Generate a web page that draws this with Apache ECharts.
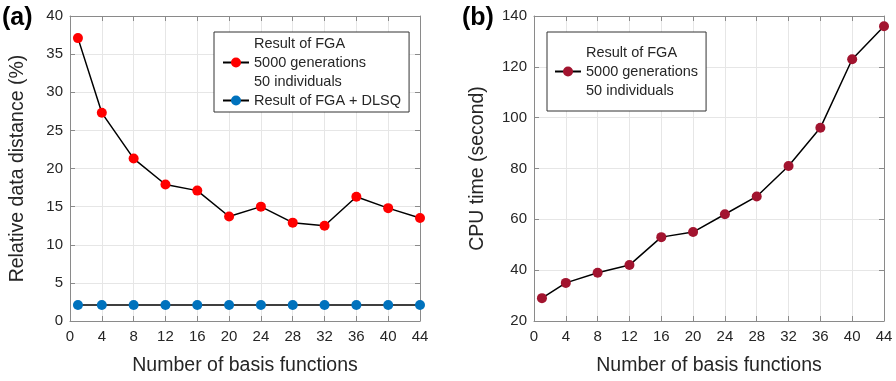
<!DOCTYPE html>
<html>
<head>
<meta charset="utf-8">
<script src="https://cdn.jsdelivr.net/npm/echarts@6/dist/echarts.min.js"></script>
<style>
	html, body { margin:0; padding:0; background:#fff; }
	#main { width:896px; height:381px; }
</style>
</head>
<body>
<div id="main"></div>
<script>
	// x positions (number of basis functions)
	var basisCount = [1, 4, 8, 12, 16, 20, 24, 28, 32, 36, 40, 44];
	// panel (a): relative data distance in %
	var distFGA = [37.1, 27.3, 21.3, 17.9, 17.1, 13.7, 15.0, 12.9, 12.5, 16.3, 14.8, 13.5];
	var distDLSQ = [2.1, 2.1, 2.1, 2.1, 2.1, 2.1, 2.1, 2.1, 2.1, 2.1, 2.1, 2.1];
	// panel (b): cpu time in seconds
	var cpuTime = [29, 35, 39, 42, 53, 55, 62, 69, 81, 96, 123, 136];

	var nameFGA = "Result of FGA\n5000 generations\n50 individuals";
	var nameDLSQ = "Result of FGA + DLSQ";
	var nameCPU = "Result of FGA\n5000 generations\n50 individuals ";

	var font = "Liberation Sans, Arial, sans-serif";
	var axisColor = "#8a8a8a";
	var textColor = "#262626";

	function pairs(xs, ys){
		var out = [];
		for(var i = 0; i < xs.length; i++){
			out.push([xs[i], ys[i]]);
		}
		return out;
	}

	function xAxisOf(gridIndex, top){
		return {
			type: "value",
			gridIndex: gridIndex,
			position: top ? "top" : "bottom",
			min: 0, max: 44, interval: 4,
			name: top ? "" : "Number of basis functions",
			nameLocation: "middle",
			nameGap: 35,
			nameTextStyle: { fontFamily: font, fontSize: 19.5, color: textColor },
			axisLine: { show: true, onZero: false, lineStyle: { color: axisColor, width: 1 } },
			axisTick: { show: true, inside: true, length: 5, lineStyle: { color: axisColor } },
			axisLabel: { show: !top, margin: 8, fontFamily: font, fontSize: 15, color: textColor },
			splitLine: { show: !top, lineStyle: { color: "#e6e6e6", width: 1 } }
		};
	}

	function yAxisOf(gridIndex, right, min, max, interval, title, gap){
		return {
			type: "value",
			gridIndex: gridIndex,
			position: right ? "right" : "left",
			min: min, max: max, interval: interval,
			name: right ? "" : title,
			nameLocation: "middle",
			nameGap: gap,
			nameTextStyle: { fontFamily: font, fontSize: 19.5, color: textColor },
			axisLine: { show: true, onZero: false, lineStyle: { color: axisColor, width: 1 } },
			axisTick: { show: true, inside: true, length: 5, lineStyle: { color: axisColor } },
			axisLabel: { show: !right, margin: 7, fontFamily: font, fontSize: 15, color: textColor },
			splitLine: { show: !right, lineStyle: { color: "#e6e6e6", width: 1 } }
		};
	}

	function lineSeries(name, xi, yi, data, color){
		return {
			name: name,
			type: "line",
			xAxisIndex: xi,
			yAxisIndex: yi,
			data: data,
			symbol: "circle",
			symbolSize: 10,
			lineStyle: { color: "#000", width: 1.5 },
			itemStyle: { color: color },
			animation: false
		};
	}

	var legendText = { fontFamily: font, fontSize: 14.5, color: textColor, lineHeight: 19 };
	var labelStyle = { fontFamily: font, fontSize: 25, fontWeight: "bold", color: "#000" };

	var chart = echarts.init(document.getElementById("main"));
	chart.setOption({
		backgroundColor: "#fff",
		animation: false,
		title: [
			{ text: "(a)", left: 2, top: 6, padding: 0, textStyle: labelStyle },
			{ text: "(b)", left: 462, top: 6, padding: 0, textStyle: labelStyle }
		],
		grid: [
			{ left: 70, top: 16, width: 350, height: 306 },
			{ left: 534, top: 16, width: 350, height: 307 }
		],
		xAxis: [
			xAxisOf(0, false), xAxisOf(0, true),
			xAxisOf(1, false), xAxisOf(1, true)
		],
		yAxis: [
			yAxisOf(0, false, 0, 40, 5, "Relative data distance (%)", 42),
			yAxisOf(0, true, 0, 40, 5, "", 0),
			yAxisOf(1, false, 20, 140, 20, "CPU time (second)", 46),
			yAxisOf(1, true, 20, 140, 20, "", 0)
		],
		legend: [
			{
				data: [nameFGA, nameDLSQ],
				orient: "vertical",
				left: 214, top: 32,
				itemWidth: 26, itemHeight: 12.5, itemGap: 0,
				padding: [2, 8, 2, 8],
				borderColor: "#333", borderWidth: 1,
				backgroundColor: "#fff",
				selectedMode: false,
				textStyle: legendText
			},
			{
				data: [nameCPU],
				orient: "vertical",
				left: 547, top: 32,
				itemWidth: 26, itemHeight: 12.5,
				padding: [11, 8, 11, 7],
				borderColor: "#333", borderWidth: 1,
				backgroundColor: "#fff",
				selectedMode: false,
				textStyle: legendText
			}
		],
		series: [
			lineSeries(nameFGA, 0, 0, pairs(basisCount, distFGA), "#ff0000"),
			lineSeries(nameDLSQ, 0, 0, pairs(basisCount, distDLSQ), "#0072bd"),
			lineSeries(nameCPU, 2, 2, pairs(basisCount, cpuTime), "#a2142f")
		]
	});
</script>
</body>
</html>
